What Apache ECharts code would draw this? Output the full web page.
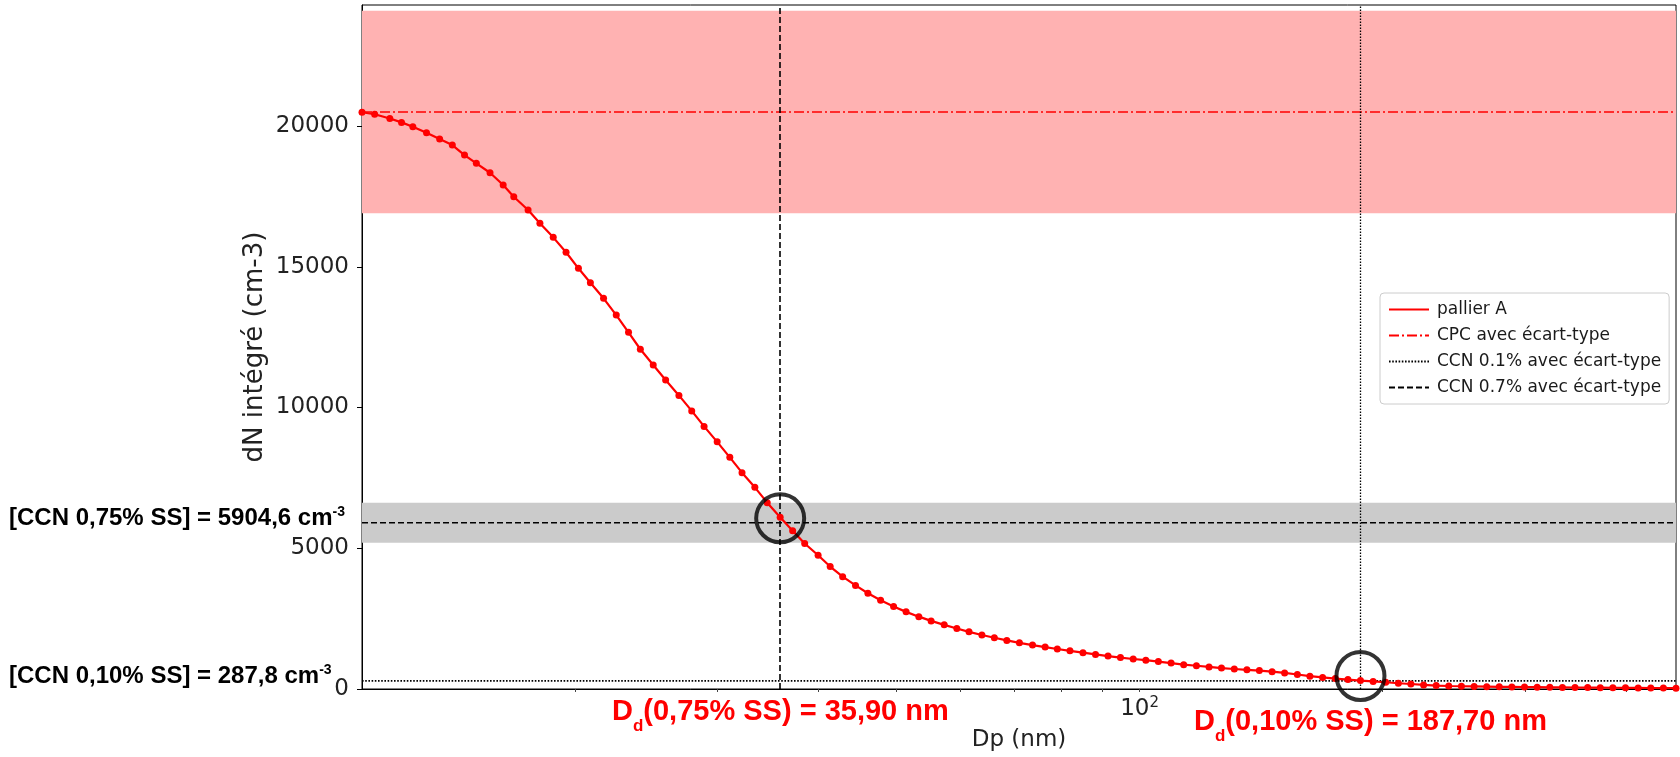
<!DOCTYPE html>
<html>
<head>
<meta charset="utf-8">
<script src="https://cdn.jsdelivr.net/npm/echarts@6/dist/echarts.min.js"></script>
<style>
  html, body { margin: 0; padding: 0; background: #fff; }
  #main { width: 1680px; height: 757px; }
</style>
</head>
<body>
<div id="main"></div>
<script>
// diamètres SMPS (nm), 64 canaux par décade
const dpNm = [10.9, 11.3, 11.8, 12.2, 12.6, 13.1, 13.6, 14.1, 14.6, 15.1,
  15.7, 16.3, 16.8, 17.5, 18.1, 18.8, 19.5, 20.2, 20.9, 21.7,
  22.5, 23.3, 24.1, 25.0, 25.9, 26.9, 27.9, 28.9, 30.0, 31.1,
  32.2, 33.4, 34.6, 35.9, 37.2, 38.5, 40.0, 41.4, 42.9, 44.5,
  46.1, 47.8, 49.6, 51.4, 53.3, 55.2, 57.3, 59.4, 61.5, 63.8,
  66.1, 68.5, 71.0, 73.7, 76.4, 79.1, 82.0, 85.1, 88.2, 91.4,
  94.7, 98.2, 101.8, 105.5, 109.4, 113.4, 117.6, 121.9, 126.3, 131.0,
  135.8, 140.7, 145.9, 151.2, 156.8, 162.5, 168.5, 174.7, 181.1, 187.7,
  194.6, 201.7, 209.1, 216.7, 224.7, 232.9, 241.4, 250.3, 259.5, 269.0,
  278.8, 289.0, 299.6, 310.6, 322.0, 333.8, 346.0, 358.7, 371.8, 385.4,
  399.5, 414.2, 429.4, 445.1, 461.4];

// dN intégré (cm-3), pallier A
const nIntegre = [20490, 20420, 20270, 20130, 19975, 19760, 19540, 19325, 18970, 18675,
  18340, 17905, 17490, 17015, 16545, 16045, 15515, 14945, 14435, 13880,
  13285, 12670, 12070, 11510, 10975, 10430, 9880, 9330, 8780, 8230,
  7685, 7165, 6620, 6100, 5620, 5170, 4750, 4350, 3990, 3680,
  3400, 3150, 2930, 2740, 2570, 2420, 2280, 2150, 2030, 1920,
  1820, 1725, 1640, 1560, 1490, 1420, 1355, 1290, 1230, 1170,
  1115, 1065, 1025, 975, 920, 865, 825, 785, 745, 710,
  680, 655, 615, 570, 515, 455, 410, 372, 335, 300,
  270, 240, 205, 178, 145, 120, 107, 97, 90, 84,
  78, 73, 68, 64, 60, 57, 54, 51, 48, 45,
  42, 39, 36, 33, 30];

const cpcMean = 20500;
const cpcStd = 3600;
const ccn07 = 5904.6;
const ccn07Std = 710;
const ccn01 = 287.8;
const dd07 = 35.9;
const dd01 = 187.7;
const circleMarks = [[35.9, 6064], [187.7, 462]];

const yTicks = [0, 5000, 10000, 15000, 20000];
const xTicks = [20, 30, 40, 50, 60, 70, 80, 90, 100, 200, 300, 400];
const xLabels = [100];

const xMin = dpNm[0];
const xMax = dpNm[dpNm.length - 1];

var chart = echarts.init(document.getElementById('main'));

var mplFont = '"DejaVu Sans", sans-serif';
var arialFont = '"Liberation Sans", Arial, sans-serif';

// texte avec exposant (cm-3)
function supText(top, txt) {
  return {
    type: 'text', left: 9, top: top, silent: true,
    style: {
      text: '{b|' + txt + '}{s|-3}',
      rich: {
        b: { fontFamily: arialFont, fontWeight: 'bold', fontSize: 24, lineHeight: 26, fill: '#000' },
        s: { fontFamily: arialFont, fontWeight: 'bold', fontSize: 14, lineHeight: 14, fill: '#000', verticalAlign: 'top' }
      }
    }
  };
}

// texte rouge avec indice D_d
function subText(left, top, txt) {
  return {
    type: 'text', left: left, top: top, silent: true,
    style: {
      text: '{b|D}{d|d}{b|' + txt + '}',
      rich: {
        b: { fontFamily: arialFont, fontWeight: 'bold', fontSize: 29, lineHeight: 34, fill: '#ff0000', verticalAlign: 'top' },
        d: { fontFamily: arialFont, fontWeight: 'bold', fontSize: 17, lineHeight: 17, padding: [21, 0, 0, 0], fill: '#ff0000', verticalAlign: 'top' }
      }
    }
  };
}

var option = {
  animation: false,
  backgroundColor: '#fff',
  grid: {
    left: 362, right: 4, top: 5, bottom: 68,
    show: true, borderColor: '#000', borderWidth: 1,
    backgroundColor: 'transparent',
    outerBoundsMode: 'none'
  },
  legend: {
    left: 1380, top: 293,
    orient: 'vertical',
    padding: [8, 8, 8, 8],
    itemGap: 9,
    itemWidth: 40,
    itemHeight: 16,
    backgroundColor: '#fff',
    borderColor: '#cccccc',
    borderWidth: 1,
    borderRadius: 4,
    selectedMode: false,
    itemStyle: { opacity: 0 },
    textStyle: { fontFamily: mplFont, fontSize: 17, color: '#1a1a1a', padding: [0, 0, 0, 3] },
    data: ['pallier A', 'CPC avec écart-type', 'CCN 0.1% avec écart-type', 'CCN 0.7% avec écart-type']
  },
  xAxis: {
    type: 'log',
    logBase: 10,
    min: xMin,
    max: xMax,
    name: 'Dp (nm)',
    nameLocation: 'middle',
    nameGap: 40,
    nameTextStyle: { fontFamily: mplFont, fontSize: 23, color: '#222' },
    axisLine: { show: true, lineStyle: { color: '#000', width: 1 } },
    axisTick: { show: true, customValues: xTicks, length: 3, lineStyle: { color: '#444' } },
    axisLabel: {
      customValues: xLabels,
      margin: 7,
      formatter: function () { return '{a|10}{b|2}'; },
      rich: {
        a: { fontFamily: mplFont, fontSize: 23, lineHeight: 26, color: '#222' },
        b: { fontFamily: mplFont, fontSize: 15, lineHeight: 14, color: '#222', verticalAlign: 'top' }
      }
    },
    splitLine: { show: false },
    minorTick: { show: false }
  },
  yAxis: {
    type: 'value',
    min: 0,
    max: 24300,
    name: 'dN intégré (cm-3)',
    nameLocation: 'middle',
    nameGap: 94,
    nameMoveOverlap: false,
    nameTextStyle: { fontFamily: mplFont, fontSize: 26, color: '#222' },
    axisLine: { show: true, lineStyle: { color: '#000', width: 1 } },
    axisTick: { show: true, customValues: yTicks, length: 5, lineStyle: { color: '#000' } },
    axisLabel: {
      customValues: yTicks,
      margin: 13,
      formatter: function (v) { return String(v); },
      fontFamily: mplFont, fontSize: 23, color: '#222'
    },
    splitLine: { show: false }
  },
  graphic: [
    supText(505, '[CCN 0,75% SS] = 5904,6 cm'),
    supText(663, '[CCN 0,10% SS] = 287,8 cm'),
    subText(612, 697, '(0,75% SS) = 35,90 nm'),
    subText(1194, 707, '(0,10% SS) = 187,70 nm')
  ],
  series: [
    {
      name: 'CPC avec écart-type',
      type: 'line',
      data: [[xMin, cpcMean], [xMax, cpcMean]],
      symbol: 'none',
      z: 3,
      lineStyle: { color: '#ff0000', width: 1.5, type: [10, 3, 2, 3] },
      itemStyle: { color: '#ff0000' },
      markArea: {
        silent: true,
        itemStyle: { color: '#ffb2b2' },
        data: [[{ yAxis: cpcMean - cpcStd }, { yAxis: cpcMean + cpcStd }]]
      }
    },
    {
      name: 'CCN 0.1% avec écart-type',
      type: 'line',
      data: [[xMin, ccn01], [xMax, ccn01]],
      symbol: 'none',
      z: 3,
      lineStyle: { color: '#000', width: 1.6, type: [1.6, 1.6] },
      itemStyle: { color: '#000' },
      markLine: {
        silent: true,
        symbol: 'none',
        label: { show: false },
        lineStyle: { color: '#000', width: 1.3, type: [1.5, 1.5] },
        data: [{ xAxis: dd01 }]
      }
    },
    {
      name: 'CCN 0.7% avec écart-type',
      type: 'line',
      data: [[xMin, ccn07], [xMax, ccn07]],
      symbol: 'none',
      z: 3,
      lineStyle: { color: '#000', width: 1.6, type: [6, 3] },
      itemStyle: { color: '#000' },
      markArea: {
        silent: true,
        itemStyle: { color: '#cbcbcb' },
        data: [[{ yAxis: ccn07 - ccn07Std }, { yAxis: ccn07 + ccn07Std }]]
      },
      markLine: {
        silent: true,
        symbol: 'none',
        label: { show: false },
        lineStyle: { color: '#000', width: 1.6, type: [6, 3] },
        data: [{ xAxis: dd07 }]
      }
    },
    {
      name: 'pallier A',
      type: 'line',
      data: dpNm.map(function (d, i) { return [d, nIntegre[i]]; }),
      symbol: 'circle',
      symbolSize: 7,
      showSymbol: true,
      z: 5,
      lineStyle: { color: '#ff0000', width: 2.2 },
      itemStyle: { color: '#ff0000' }
    },
    {
      name: 'cercles',
      type: 'scatter',
      data: circleMarks,
      symbol: 'circle',
      symbolSize: 48,
      z: 6,
      silent: true,
      itemStyle: { color: 'transparent', borderColor: '#000', borderWidth: 4 }
    }
  ]
};

chart.setOption(option);
</script>
</body>
</html>
